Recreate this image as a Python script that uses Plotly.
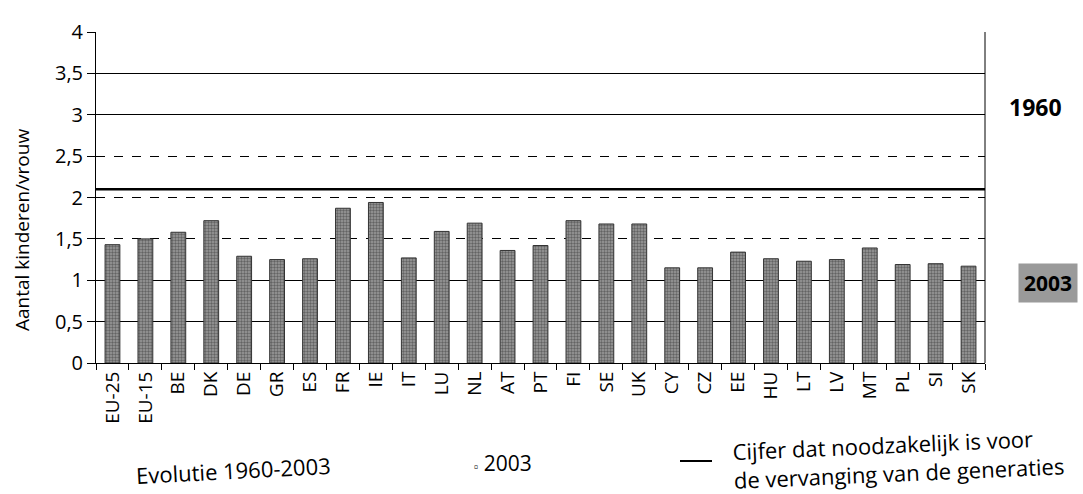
import plotly.graph_objects as go

categories = ["EU-25", "EU-15", "BE", "DK", "DE", "GR", "ES", "FR", "IE", "IT", "LU", "NL", "AT",
              "PT", "FI", "SE", "UK", "CY", "CZ", "EE", "HU", "LT", "LV", "MT", "PL", "SI", "SK"]
fertility_2003 = [1.43, 1.50, 1.58, 1.72, 1.29, 1.25, 1.26, 1.87, 1.94, 1.27, 1.59, 1.69, 1.36,
                  1.42, 1.72, 1.68, 1.68, 1.15, 1.15, 1.34, 1.26, 1.23, 1.25, 1.39, 1.19, 1.20, 1.17]
replacement_rate = 2.1
solid_grid = [0, 0.5, 1, 3, 3.5, 4]
dashed_grid = [1.5, 2, 2.5]
y_ticks = [0, 0.5, 1, 1.5, 2, 2.5, 3, 3.5, 4]
y_tick_text = ["0", "0,5", "1", "1,5", "2", "2,5", "3", "3,5", "4"]

FONT = "Open Sans"
W, H = 1083, 494
L, R, T, B = 96, 98, 32, 131
PW, PH = W - L - R, H - T - B


def px(x, y):
    """pixel position -> paper coordinates"""
    return (x - L) / PW, (H - B - y) / PH


fig = go.Figure()
fig.add_trace(go.Bar(
    x=categories, y=fertility_2003, name="2003",
    width=0.45,
    marker=dict(color="#858585", line=dict(color="#333333", width=1),
                pattern=dict(shape=".", fgcolor="#2a2a2a", bgcolor="#9c9c9c", size=3, solidity=0.5)),
    showlegend=False, hoverinfo="x+y",
))
# invisible helper trace that carries the dashed-grid axis
fig.add_trace(go.Scatter(x=categories, y=fertility_2003, yaxis="y2", mode="none",
                         showlegend=False, hoverinfo="skip"))

# replacement-rate line
fig.add_shape(type="line", xref="paper", x0=0, x1=1, yref="y", y0=replacement_rate, y1=replacement_rate,
              line=dict(color="black", width=2.5))

fig.update_layout(
    width=W, height=H,
    margin=dict(l=L, r=R, t=T, b=B),
    paper_bgcolor="white", plot_bgcolor="white",
    font=dict(family=FONT, color="black", size=18),
    xaxis=dict(
        automargin=False,
        showline=True, linecolor="black", linewidth=1,
        ticks="outside", tickson="boundaries", ticklen=6, tickcolor="black",
        tickangle=-90, tickfont=dict(family=FONT, size=19),
        showgrid=False,
    ),
    yaxis=dict(
        automargin=False,
        range=[0, 4], tickvals=y_ticks, ticktext=y_tick_text,
        showline=True, linecolor="black", linewidth=1,
        ticks="outside", ticklen=8, tickcolor="black",
        tickfont=dict(family=FONT, size=20),
        showgrid=False, zeroline=False,
        minor=dict(tickvals=solid_grid, showgrid=True, gridcolor="black", gridwidth=1, ticks=""),
    ),
    yaxis2=dict(
        automargin=False,
        range=[0, 4], overlaying="y", side="left",
        tickvals=dashed_grid, showticklabels=False, ticks="",
        showgrid=True, gridcolor="black", gridwidth=1, griddash="dash",
        zeroline=False, showline=False,
    ),
)

# right border
fig.add_shape(type="line", xref="paper", yref="paper", x0=1, x1=1, y0=0, y1=1,
              line=dict(color="black", width=1))

# y-axis title
x0, y0 = px(22, 230)
fig.add_annotation(xref="paper", yref="paper", x=x0, y=y0, text="Aantal kinderen/vrouw",
                   showarrow=False, textangle=-90, font=dict(family=FONT, size=19),
                   xanchor="center", yanchor="middle")

# side labels
x0, y0 = px(1035, 107)
fig.add_annotation(xref="paper", yref="paper", x=x0, y=y0, text="<b>1960</b>", showarrow=False,
                   font=dict(family=FONT, size=23), xanchor="center", yanchor="middle")
x0, y0 = px(1048, 283)
fig.add_annotation(xref="paper", yref="paper", x=x0, y=y0, text="<b>2003</b>", showarrow=False,
                   font=dict(family=FONT, size=21), xanchor="center", yanchor="middle",
                   bgcolor="#9a9a9a", borderpad=5)

# bottom texts
x0, y0 = px(233, 470)
fig.add_annotation(xref="paper", yref="paper", x=x0, y=y0, text="Evolutie 1960-2003",
                   showarrow=False, font=dict(family=FONT, size=22), xanchor="center", yanchor="middle",
                   textangle=-3)
x0, y0 = px(472, 463)
fig.add_annotation(xref="paper", yref="paper", x=x0, y=y0, text="<span style='font-size:12px'>▫</span> 2003",
                   showarrow=False, font=dict(family=FONT, size=21), xanchor="left", yanchor="middle")
xa, ya = px(680, 461)
xb, _ = px(712, 461)
fig.add_shape(type="line", xref="paper", yref="paper", x0=xa, x1=xb, y0=ya, y1=ya,
              line=dict(color="black", width=2))
x0, y0 = px(898, 458)
fig.add_annotation(xref="paper", yref="paper", x=x0, y=y0,
                   text="Cijfer dat noodzakelijk is voor<br>de vervanging van de generaties",
                   showarrow=False, font=dict(family=FONT, size=22), xanchor="center", yanchor="middle",
                   align="left", textangle=-2.5)

fig.write_html("out.html", config={"displayModeBar": False},
               post_script="document.body.style.margin='0';document.body.style.overflow='hidden';")
